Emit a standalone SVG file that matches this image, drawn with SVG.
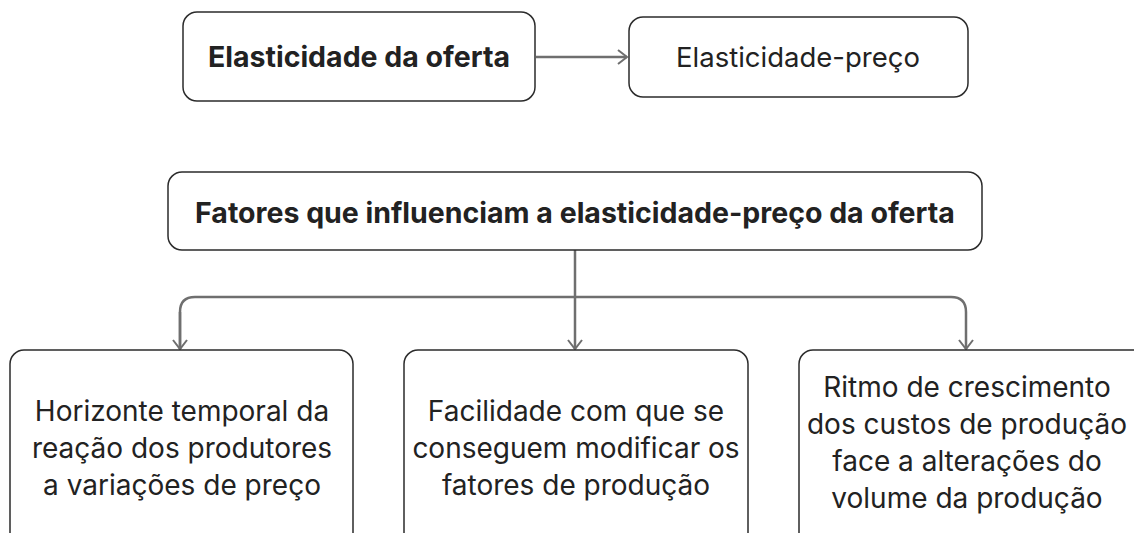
<svg xmlns="http://www.w3.org/2000/svg" width="1134" height="533" viewBox="0 0 1134 533">
<style>
.box{fill:#fff;stroke:#2b2b2b;stroke-width:1.5}
.t{font-family:Inter,"Liberation Sans",sans-serif;fill:#222;text-anchor:middle}
.b{font-weight:bold;font-size:28.5px}
.r{font-size:27.5px}
.n{font-size:28px}
.c{fill:none;stroke:#6f6f6f;stroke-width:2.5}
</style>
<defs>
<marker id="ah" markerWidth="18" markerHeight="18" refX="12" refY="9" orient="auto" markerUnits="userSpaceOnUse">
<path d="M3,2 L12,9 L3,16" fill="none" stroke="#6f6f6f" stroke-width="2"/>
</marker>
</defs>
<rect width="1134" height="533" fill="#fff"/>
<g id="connectors">
<path class="c" d="M536,57 H627" marker-end="url(#ah)"/>
<path class="c" d="M575,250 V349" marker-end="url(#ah)"/>
<path class="c" d="M180,349 V312 Q180,297 195,297 H951 Q966,297 966,312 V349" marker-end="url(#ah)"/>
<path class="c" d="M180,312 V349" marker-end="url(#ah)"/>
</g>
<g id="n1">
<rect class="box" x="183" y="12" width="352" height="89" rx="14"/>
<text class="t b" x="359" y="67">Elasticidade da oferta</text>
</g>
<g id="n2">
<rect class="box" x="629" y="17" width="339" height="80" rx="14"/>
<text class="t r" x="798" y="67">Elasticidade-preço</text>
</g>
<g id="n3">
<rect class="box" x="168" y="172" width="814" height="78" rx="14"/>
<text class="t b" x="575" y="223">Fatores que influenciam a elasticidade-preço da oferta</text>
</g>
<g id="n4">
<rect class="box" x="10" y="350" width="343" height="200" rx="14"/>
<text class="t n" x="182" y="421">Horizonte temporal da</text>
<text class="t n" x="182" y="458">reação dos produtores</text>
<text class="t n" x="182" y="495">a variações de preço</text>
</g>
<g id="n5">
<rect class="box" x="404" y="350" width="344" height="200" rx="14"/>
<text class="t n" x="576" y="421">Facilidade com que se</text>
<text class="t n" x="576" y="458">conseguem modificar os</text>
<text class="t n" x="576" y="495">fatores de produção</text>
</g>
<g id="n6">
<rect class="box" x="799" y="350" width="354" height="200" rx="14"/>
<text class="t n" x="967" y="397">Ritmo de crescimento</text>
<text class="t n" x="967" y="434">dos custos de produção</text>
<text class="t n" x="967" y="471">face a alterações do</text>
<text class="t n" x="967" y="508">volume da produção</text>
</g>
</svg>
